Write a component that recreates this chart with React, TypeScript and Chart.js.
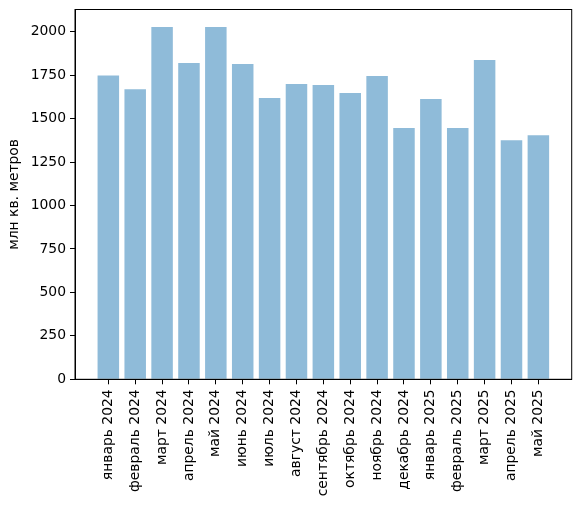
import React, { useEffect, useRef } from "react";
import { Chart, registerables } from "chart.js";

Chart.register(...registerables);

const categories = [
  "январь 2024", "февраль 2024", "март 2024", "апрель 2024", "май 2024", "июнь 2024",
  "июль 2024", "август 2024", "сентябрь 2024", "октябрь 2024", "ноябрь 2024", "декабрь 2024",
  "январь 2025", "февраль 2025", "март 2025", "апрель 2025", "май 2025",
];
const values = [1749, 1670, 2027, 1820, 2027, 1814, 1619, 1699, 1694, 1648, 1745, 1446, 1613, 1446, 1837, 1376, 1405];
const yTicks = [0, 250, 500, 750, 1000, 1250, 1500, 1750, 2000];
const yLabel = "млн кв. метров";

const FONT = "'DejaVu Sans', sans-serif";
const FS = 13.9;

export default function App() {
  const ref = useRef<HTMLCanvasElement>(null);
  useEffect(() => {
    const n = values.length;
    const maxV = Math.max(...values);
    const frame = {
      id: "frame",
      afterDraw(chart: any) {
        const { ctx, chartArea: a } = chart;
        ctx.save();
        ctx.strokeStyle = "#000";
        ctx.lineWidth = 1;
        ctx.strokeRect(a.left, a.top, a.right - a.left, a.bottom - a.top);
        ctx.restore();
      },
    };
    const chart = new Chart(ref.current!, {
      type: "bar",
      data: {
        datasets: [
          {
            data: values.map((v, i) => ({ x: i, y: v })),
            backgroundColor: "rgba(31,119,180,0.5)",
            borderWidth: 0,
            barPercentage: 0.8,
            categoryPercentage: 1.0,
          },
        ],
      },
      plugins: [frame],
      options: {
        animation: false,
        responsive: false,
        maintainAspectRatio: false,
        layout: { padding: { top: 9.5, right: 8.3, left: 0, bottom: 0 } },
        plugins: { legend: { display: false }, tooltip: { enabled: false } },
        scales: {
          x: {
            type: "linear",
            min: -0.4 - 0.05 * (n - 1 + 0.8),
            max: n - 1 + 0.4 + 0.05 * (n - 1 + 0.8),
            offset: false,
            afterBuildTicks: (axis: any) => {
              axis.ticks = categories.map((_, i) => ({ value: i }));
            },
            ticks: {
              autoSkip: false,
              maxRotation: 90,
              minRotation: 90,
              padding: 5,
              color: "#000",
              font: { family: FONT, size: FS },
              callback: (v: any) => categories[Math.round(v)] ?? "",
            },
            grid: { offset: false, drawOnChartArea: false, drawTicks: true, tickLength: 5, color: "#000" },
            border: { display: true, color: "#000" },
            afterFit: (axis: any) => {
              axis.height = 126.7;
              axis.paddingLeft = 0;
              axis.paddingRight = 0;
            },
          },
          y: {
            min: 0,
            max: maxV * 1.05,
            afterBuildTicks: (axis: any) => {
              axis.ticks = yTicks.map((v) => ({ value: v }));
            },
            ticks: {
              padding: 4,
              color: "#000",
              font: { family: FONT, size: FS },
              callback: (v: any) => String(v),
            },
            grid: { drawOnChartArea: false, drawTicks: true, tickLength: 5, color: "#000" },
            border: { display: true, color: "#000" },
            title: {
              display: true,
              text: yLabel,
              color: "#000",
              font: { family: FONT, size: FS },
              padding: { top: 6, bottom: 0 },
            },
            afterFit: (axis: any) => {
              axis.width = 75;
              axis.paddingTop = 0;
              axis.paddingBottom = 0;
            },
          },
        },
      },
    } as any);
    return () => chart.destroy();
  }, []);
  return (
    <div style={{ position: "fixed", left: 0, top: 0, width: 580, height: 506, background: "#fff" }}>
      <canvas ref={ref} width={580} height={506} style={{ width: 580, height: 506 }} />
    </div>
  );
}
